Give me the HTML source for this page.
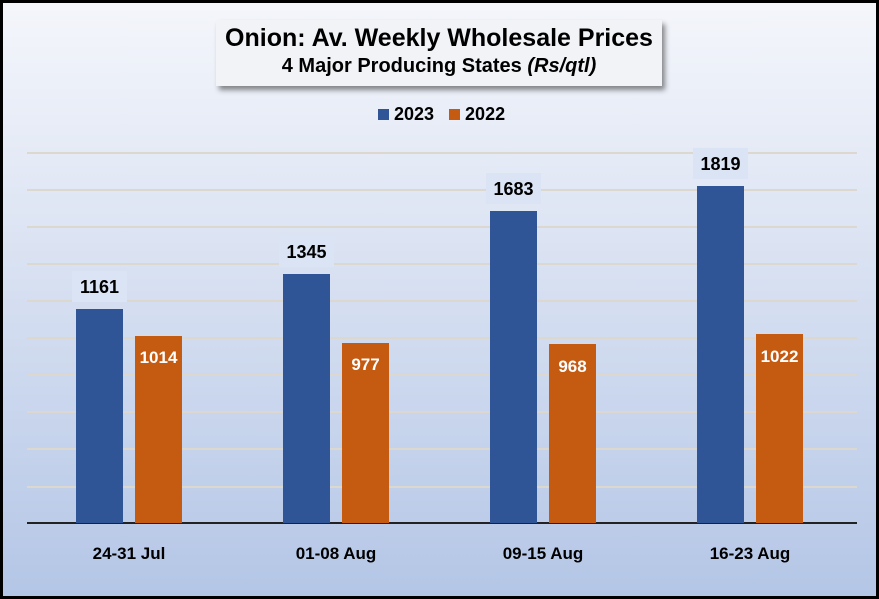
<!DOCTYPE html>
<html><head><style>
body{margin:0;width:879px;height:599px;overflow:hidden;font-family:"Liberation Sans",sans-serif;}
#c{position:absolute;left:0;top:0;width:873px;height:593px;border:3px solid #000;background:linear-gradient(#f4f6fb 0%,#dfe6f4 35%,#b4c6e6 100%);}
.a{position:absolute;}
.g{position:absolute;left:24px;width:830px;height:2px;background:#dcd8d0;}
.b{position:absolute;width:47px;}
.b1{background:#2f5597;}
.b2{background:#c55a11;}
.l{position:absolute;width:55px;height:31px;background:#dbe4f4;font-weight:bold;font-size:18px;text-align:center;line-height:33px;color:#000;}
.w{position:absolute;width:47px;text-align:center;color:#fff;font-weight:bold;font-size:17px;}
.x{position:absolute;width:160px;text-align:center;font-weight:bold;font-size:17px;top:541px;}
</style></head><body><div id="c">
<div class="a" style="left:213px;top:17px;width:446px;height:66px;background:#f2f3f7;box-shadow:3px 4px 5px rgba(0,0,0,0.45);text-align:center;">
<div style="font-size:25px;font-weight:bold;margin-top:4px;">Onion: Av. Weekly Wholesale Prices</div>
<div style="font-size:20px;font-weight:bold;margin-top:2px;">4 Major Producing States <i>(Rs/qtl)</i></div>
</div>
<div class="a" style="left:375px;top:101px;font-size:18px;font-weight:bold;"><span style="display:inline-block;width:11px;height:11px;background:#2f5597;margin-right:5px"></span>2023&nbsp;&nbsp;&nbsp;<span style="display:inline-block;width:11px;height:11px;background:#c55a11;margin-right:5px"></span>2022</div>
<div class="g" style="top:149px"></div><div class="g" style="top:186px"></div><div class="g" style="top:223px"></div><div class="g" style="top:260px"></div><div class="g" style="top:297px"></div><div class="g" style="top:334px"></div><div class="g" style="top:371px"></div><div class="g" style="top:408px"></div><div class="g" style="top:445px"></div><div class="g" style="top:483px"></div>
<div class="a" style="left:24px;top:519px;width:830px;height:2px;background:#222"></div>

<div class="b b1" style="left:73px;top:306px;height:214px"></div>
<div class="b b2" style="left:132px;top:333px;height:187px"></div>
<div class="l" style="left:69px;top:268px">1161</div>
<div class="w" style="left:132px;top:345px">1014</div>

<div class="b b1" style="left:280px;top:271px;height:249px"></div>
<div class="b b2" style="left:339px;top:340px;height:180px"></div>
<div class="l" style="left:276px;top:233px">1345</div>
<div class="w" style="left:339px;top:352px">977</div>

<div class="b b1" style="left:487px;top:208px;height:312px"></div>
<div class="b b2" style="left:546px;top:341px;height:179px"></div>
<div class="l" style="left:483px;top:170px">1683</div>
<div class="w" style="left:546px;top:354px">968</div>

<div class="b b1" style="left:694px;top:183px;height:337px"></div>
<div class="b b2" style="left:753px;top:331px;height:189px"></div>
<div class="l" style="left:690px;top:145px">1819</div>
<div class="w" style="left:753px;top:344px">1022</div>

<div class="x" style="left:46px">24-31 Jul</div>
<div class="x" style="left:253px">01-08 Aug</div>
<div class="x" style="left:460px">09-15 Aug</div>
<div class="x" style="left:667px">16-23 Aug</div>
</div></body></html>
